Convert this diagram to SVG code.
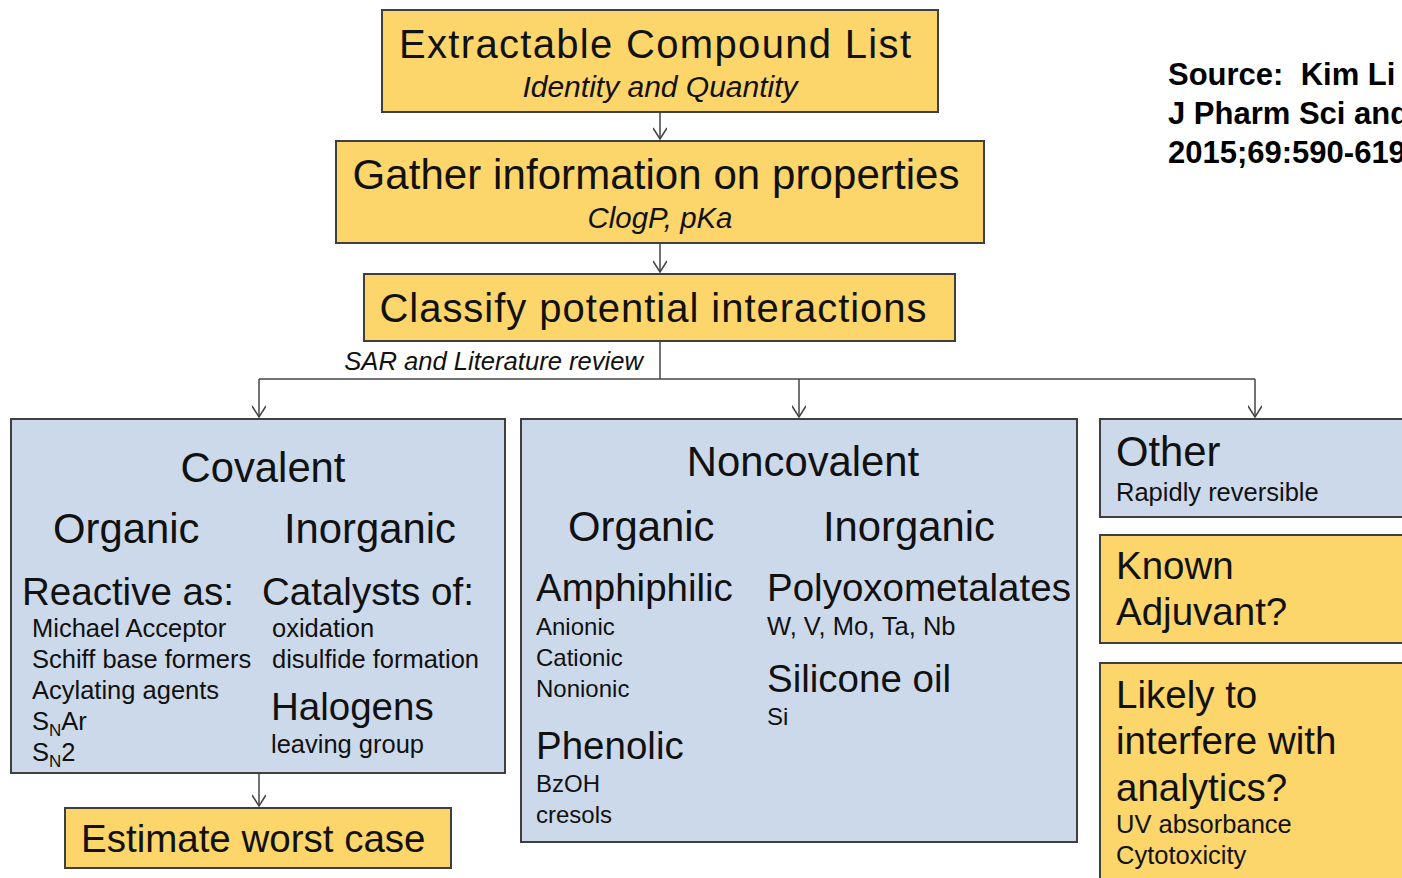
<svg xmlns="http://www.w3.org/2000/svg" width="1402" height="878" viewBox="0 0 1402 878">
<defs>
<marker id="arr" markerWidth="14" markerHeight="14" refX="13" refY="7" orient="auto" markerUnits="userSpaceOnUse" viewBox="0 0 14 14">
<polyline points="2,0 13,7 2,14" fill="none" stroke="#444" stroke-width="1.5"/>
</marker>
<style>
.y{fill:#FCD56B;stroke:#3f3f3f;stroke-width:2}
.b{fill:#CCD9EA;stroke:#3f3f3f;stroke-width:2}
text{font-family:"Liberation Sans",Arial,sans-serif;fill:#111}
.t42{font-size:41.8px}
.t40{font-size:40px}
.t38{font-size:38.5px}
.t25{font-size:25.5px}
.t24{font-size:24px}
.i{font-style:italic}
.c{text-anchor:middle}
.src{font-size:31px;font-weight:bold;fill:#000}
.ln{fill:none;stroke:#444;stroke-width:1.5}
</style>
</defs>
<rect width="1402" height="878" fill="#fff"/>

<g id="connectors">
<line class="ln" x1="660" y1="112" x2="660" y2="139" marker-end="url(#arr)"/>
<line class="ln" x1="660" y1="243" x2="660" y2="272" marker-end="url(#arr)"/>
<line class="ln" x1="660" y1="341" x2="660" y2="379"/>
<line class="ln" x1="259" y1="379" x2="1255" y2="379"/>
<line class="ln" x1="259" y1="379" x2="259" y2="417" marker-end="url(#arr)"/>
<line class="ln" x1="799" y1="379" x2="799" y2="417" marker-end="url(#arr)"/>
<line class="ln" x1="1255" y1="379" x2="1255" y2="417" marker-end="url(#arr)"/>
<line class="ln" x1="259" y1="773" x2="259" y2="806" marker-end="url(#arr)"/>
<text class="i" x="643" y="370" text-anchor="end" font-size="25.6">SAR and Literature review</text>
</g>

<g id="extractable">
<rect class="y" x="382" y="10" width="556" height="102"/>
<text class="t40 c" x="655" y="58" textLength="512" lengthAdjust="spacing">Extractable  Compound  List</text>
<text class="i c" x="660" y="97" font-size="30">Identity and Quantity</text>
</g>

<g id="gather">
<rect class="y" x="336" y="141" width="648" height="102"/>
<text class="c" x="656" y="189" font-size="42" textLength="607" lengthAdjust="spacing">Gather  information  on  properties</text>
<text class="i c" x="660" y="228" font-size="29.4">ClogP, pKa</text>
</g>

<g id="classify">
<rect class="y" x="364" y="274" width="591" height="67"/>
<text class="t40 c" x="653" y="322" textLength="547" lengthAdjust="spacing">Classify  potential  interactions</text>
</g>

<g id="covalent">
<rect class="b" x="11" y="419" width="494" height="354"/>
<text class="t42 c" x="263" y="482">Covalent</text>
<text class="t42" x="53" y="543">Organic</text>
<text class="t42" x="284" y="543">Inorganic</text>
<text class="t38" x="22" y="605">Reactive as:</text>
<text class="t38" x="262" y="605">Catalysts of:</text>
<text class="t25" x="32" y="637">Michael Acceptor</text>
<text class="t25" x="32" y="668">Schiff base formers</text>
<text class="t25" x="32" y="699">Acylating agents</text>
<text class="t25" x="32" y="730">S<tspan font-size="17" dy="6">N</tspan><tspan dy="-6">Ar</tspan></text>
<text class="t25" x="32" y="761">S<tspan font-size="17" dy="6">N</tspan><tspan dy="-6">2</tspan></text>
<text class="t25" x="272" y="637">oxidation</text>
<text class="t25" x="272" y="668" textLength="207" lengthAdjust="spacing">disulfide  formation</text>
<text class="t38" x="271" y="720" font-size="40">Halogens</text>
<text class="t25" x="271" y="753" textLength="153" lengthAdjust="spacing">leaving  group</text>
</g>

<g id="noncovalent">
<rect class="b" x="521" y="419" width="556" height="423"/>
<text class="t42 c" x="803" y="476">Noncovalent</text>
<text class="t42" x="568" y="541">Organic</text>
<text class="t42" x="823" y="541">Inorganic</text>
<text class="t38" x="536" y="601" font-size="39">Amphiphilic</text>
<text class="t24" x="536" y="635">Anionic</text>
<text class="t24" x="536" y="666">Cationic</text>
<text class="t24" x="536" y="697">Nonionic</text>
<text class="t38" x="536" y="759">Phenolic</text>
<text class="t24" x="536" y="792">BzOH</text>
<text class="t24" x="536" y="823">cresols</text>
<text class="t38" x="767" y="601" font-size="38">Polyoxometalates</text>
<text class="t25" x="767" y="635">W, V, Mo, Ta, Nb</text>
<text class="t38" x="767" y="692">Silicone oil</text>
<text class="t24" x="767" y="725">Si</text>
</g>

<g id="other">
<rect class="b" x="1100" y="419" width="320" height="98"/>
<text class="t42" x="1116" y="466">Other</text>
<text class="t25" x="1116" y="501">Rapidly reversible</text>
</g>

<g id="adjuvant">
<rect class="y" x="1100" y="535" width="320" height="108"/>
<text class="t38" x="1116" y="579">Known</text>
<text class="t38" x="1116" y="625">Adjuvant?</text>
</g>

<g id="analytics">
<rect class="y" x="1100" y="663" width="320" height="240"/>
<text class="t38" x="1116" y="708">Likely to</text>
<text class="t38" x="1116" y="754">interfere with</text>
<text class="t38" x="1116" y="801">analytics?</text>
<text class="t25" x="1116" y="833">UV absorbance</text>
<text class="t25" x="1116" y="864">Cytotoxicity</text>
</g>

<g id="estimate">
<rect class="y" x="65" y="808" width="386" height="60"/>
<text class="t38" x="81" y="852">Estimate worst case</text>
</g>

<g id="source">
<text class="src" x="1168" y="85" xml:space="preserve">Source:  Kim Li</text>
<text class="src" x="1168" y="124">J Pharm Sci and</text>
<text class="src" x="1168" y="163">2015;69:590-619</text>
</g>
</svg>
